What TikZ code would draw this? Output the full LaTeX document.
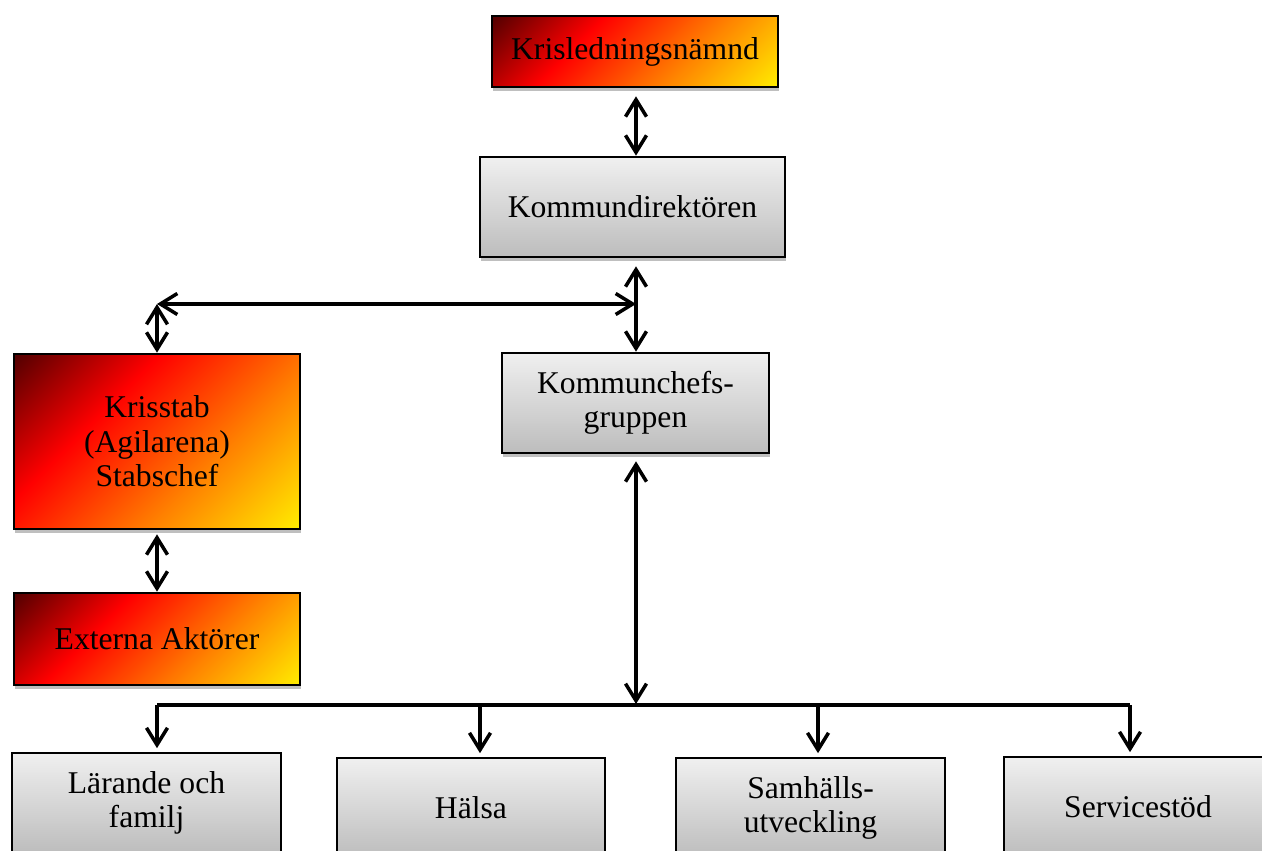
\documentclass[tikz,border=0pt]{standalone}
\usepackage{fontspec}
\setmainfont{Liberation Serif}
\usetikzlibrary{arrows.meta,shadows}

\definecolor{krismork}{RGB}{85,0,0}
\definecolor{krisorange}{RGB}{255,128,0}
\definecolor{krisgul}{RGB}{255,235,0}
\pgfdeclarehorizontalshading{krisfarg}{100bp}{color(0bp)=(krismork); color(15bp)=(krismork); color(37bp)=(red); color(62bp)=(krisorange); color(85bp)=(krisgul); color(100bp)=(krisgul)}

\tikzset{
  ruta/.style={draw, line width=1.5pt, align=center, font=\fontsize{18}{19.6}\selectfont,
    drop shadow={shadow xshift=0.6pt, shadow yshift=-2.2pt, opacity=0.25, fill=black}},
  krisbox/.style={ruta, shade, shading=krisfarg, shading angle=-45},
  grabox/.style={ruta, top color=gray!12, bottom color=gray!52},
  pil/.style={<->, line width=2pt},
  pilned/.style={->, line width=2pt},
}

\begin{document}
\begin{tikzpicture}[>={Straight Barb[length=3.4mm,width=4.2mm]}]
\useasboundingbox (0,0) rectangle (25.24,17);
% ledning
\node[krisbox, minimum width=5.72cm, minimum height=1.42cm] (namnd) at (12.70,15.97) {Krisledningsnämnd};
\node[grabox, minimum width=6.1cm, minimum height=2cm] (kdir) at (12.65,12.86) {Kommundirektören};
\node[grabox, minimum width=5.34cm, minimum height=2cm] (kchef) at (12.71,8.94) {Kommunchefs-\\gruppen};
% krisstab
\node[krisbox, minimum width=5.72cm, minimum height=3.5cm] (stab) at (3.14,8.17) {Krisstab\\(Agilarena)\\Stabschef};
\node[krisbox, minimum width=5.72cm, minimum height=1.84cm] (externa) at (3.14,4.22) {Externa Aktörer};
% förvaltningar
\node[grabox, minimum width=5.38cm, minimum height=2cm] (larande) at (2.93,0.94) {Lärande och\\familj};
\node[grabox, minimum width=5.36cm, minimum height=2cm] (halsa) at (9.42,0.84) {Hälsa};
\node[grabox, minimum width=5.38cm, minimum height=2cm] (samhalle) at (16.21,0.84) {Samhälls-\\utveckling};
\node[grabox, minimum width=5.36cm, minimum height=2cm] (service) at (22.76,0.86) {Servicestöd};

\coordinate (vank) at (3.14,10.92);
\coordinate (hank) at (12.72,10.92);
\coordinate (buss) at (12.72,2.92);

\draw[pil] ([yshift=-0.16cm]namnd.south -| hank) -- (kdir.north -| hank);
\draw[pil] ([yshift=-0.16cm]kdir.south -| hank) -- (kchef.north -| hank);
\draw[pil] (vank) -- (hank);
\draw[pil] (vank) -- (stab.north);
\draw[pil] ([yshift=-0.08cm]stab.south) -- (externa.north);
\draw[pil] ([yshift=-0.14cm]kchef.south -| buss) -- (buss);
\draw[line width=2pt] (3.14,2.9) -- (22.6,2.9);
\foreach \x/\n in {3.14/larande, 9.6/halsa, 16.36/samhalle, 22.6/service}
  \draw[pilned, shorten >=2pt] (\x,2.9) -- (\x,0 |- \n.north);
\end{tikzpicture}
\end{document}
